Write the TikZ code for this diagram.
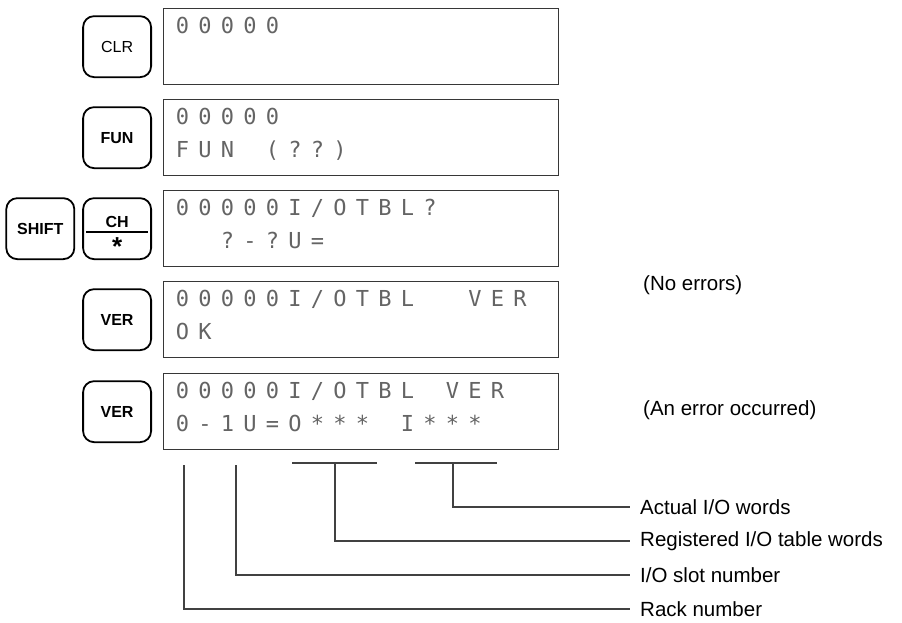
\documentclass[tikz,border=0pt]{standalone}
\usepackage{fontspec}
\setsansfont{Liberation Sans}
\newfontfamily\lcdfont{DejaVu Sans Mono}
\usetikzlibrary{positioning}
\definecolor{lcdDots}{RGB}{100,100,100}
\definecolor{frameGray}{RGB}{55,55,55}
\definecolor{leaderGray}{RGB}{65,65,65}

% one character cell of the dot-matrix display
\makeatletter
\newcommand\lcdrow[1]{\@tfor\lcdch:=#1\do{\makebox[22.5pt][c]{\lcdch}}}
\makeatother

\begin{document}
\begin{tikzpicture}[
  x=1pt, y=-1pt,
  font=\sffamily,
  key/.style={draw=black, line width=1.8pt, rounded corners=11pt,
    minimum width=68pt, minimum height=61pt, inner sep=0pt,
    font=\sffamily\fontsize{16}{16}\selectfont},
  boldkey/.style={key, font=\sffamily\bfseries\fontsize{16}{16}\selectfont},
  display/.style={draw=frameGray, line width=1.3pt, minimum width=395pt,
    minimum height=76pt, inner sep=0pt, anchor=north west},
  lcd/.style={font=\lcdfont\fontsize{22}{22}\selectfont, text=lcdDots,
    inner sep=0pt, anchor=base west},
  note/.style={font=\sffamily\fontsize{20.5}{21}\selectfont, inner sep=0pt, anchor=west},
  leader/.style={draw=leaderGray, line width=1.3pt}
]
\useasboundingbox (0,0) rectangle (902,622);

% Display panels.
\node[display] (disp1) at (163,8) {};
\node[display] (disp2) at (163,99) {};
\node[display] (disp3) at (163,190) {};
\node[display] (disp4) at (163,281) {};
\node[display] (disp5) at (163,373) {};

\node[lcd] (d1a) at ([xshift=8pt,yshift=-25pt]disp1.north west) {\lcdrow{00000}};
\node[lcd] (d2a) at ([xshift=8pt,yshift=-25pt]disp2.north west) {\lcdrow{00000}};
\node[lcd] (d2b) at ([xshift=8pt,yshift=-58pt]disp2.north west) {\lcdrow{FUN~(??)}};
\node[lcd] (d3a) at ([xshift=8pt,yshift=-25pt]disp3.north west) {\lcdrow{00000I/OTBL?}};
\node[lcd] (d3b) at ([xshift=8pt,yshift=-58pt]disp3.north west) {\lcdrow{~~?-?U=}};
\node[lcd] (d4a) at ([xshift=8pt,yshift=-25pt]disp4.north west) {\lcdrow{00000I/OTBL~~VER}};
\node[lcd] (d4b) at ([xshift=8pt,yshift=-58pt]disp4.north west) {\lcdrow{OK}};
\node[lcd] (d5a) at ([xshift=8pt,yshift=-25pt]disp5.north west) {\lcdrow{00000I/OTBL~VER}};
\node[lcd] (d5b) at ([xshift=8pt,yshift=-58pt]disp5.north west) {\lcdrow{0-1U=O***~I***}};

% Keys.
\node[key, left=11pt of disp1] (keyClr) {CLR};
\node[boldkey, left=11pt of disp2] (keyFun) {FUN};
\node[boldkey, left=11pt of disp3] (keyCh) {};
\node[boldkey, left=7pt of keyCh] (keyShift) {SHIFT};
\node[boldkey, left=11pt of disp4] (keyVer) {VER};
\node[boldkey, left=11pt of disp5] (keyVerB) {VER};

\draw[line width=1.8pt] ([xshift=4pt,yshift=-3pt]keyCh.west) -- ([xshift=-4pt,yshift=-3pt]keyCh.east);
\node[font=\sffamily\bfseries\fontsize{16}{16}\selectfont, anchor=base, inner sep=0pt]
  (chTop) at ([yshift=1pt]keyCh.center) {CH};
\node[font=\sffamily\bfseries\fontsize{26}{26}\selectfont, anchor=north, inner sep=0pt]
  (chStar) at ([yshift=-9pt]keyCh.center) {*};

% Outcome notes.
\node[note] (noErr) at (643,285) {(No errors)};
\node[note] (anErr) at (643,410) {(An error occurred)};

% Field markers under the error line.
\coordinate (rackTop) at (184,465);
\coordinate (slotTop) at (236,465);
\coordinate (regBarL) at (292,463);
\coordinate (regBarR) at (377,463);
\coordinate (regTop) at (335,463);
\coordinate (actBarL) at (415,463);
\coordinate (actBarR) at (497,463);
\coordinate (actTop) at (453,463);

\node[note] (actLbl) at (640,507) {Actual I/O words};
\node[note] (regLbl) at (640,541) {Registered I/O table words};
\node[note] (slotLbl) at (640,575) {I/O slot number};
\node[note] (rackLbl) at (640,609) {Rack number};

\draw[leader] (regBarL) -- (regBarR);
\draw[leader] (actBarL) -- (actBarR);
\draw[leader, shorten >=10pt] (actTop) |- (actLbl.west);
\draw[leader, shorten >=10pt] (regTop) |- (regLbl.west);
\draw[leader, shorten >=10pt] (slotTop) |- (slotLbl.west);
\draw[leader, shorten >=10pt] (rackTop) |- (rackLbl.west);

\end{tikzpicture}
\end{document}
